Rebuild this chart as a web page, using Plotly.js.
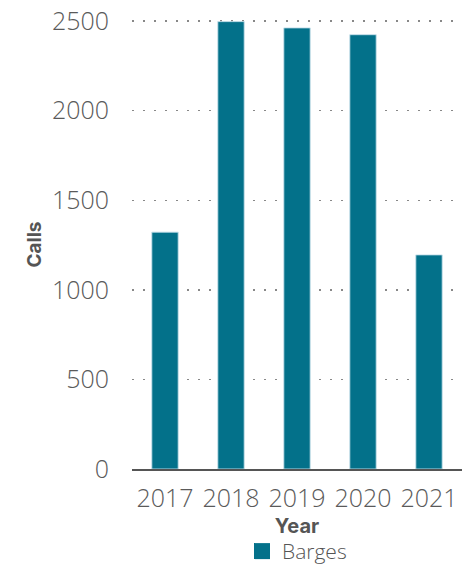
<!DOCTYPE html>
<html><head><meta charset="utf-8">
<script src="https://cdn.plot.ly/plotly-3.0.1.min.js"></script>
<style>html,body{margin:0;padding:0;background:#fff}#c{width:467px;height:565px}</style>
</head><body><div id="c"></div>
<script>
const years = ['2017','2018','2019','2020','2021'];
const barges = [1322, 2497, 2462, 2424, 1195];
const yTicks = [0, 500, 1000, 1500, 2000, 2500];
const seriesName = 'Barges';
const barColor = '#03718A';

const tickFam = '"Open Sans", sans-serif';
const fontFam = 'Inter, "Open Sans", sans-serif';
Plotly.newPlot('c', [{
  type: 'bar', x: years, y: barges, name: seriesName, legendgroup: 'b',
  marker: {color: barColor, line: {color: 'rgba(200,225,235,0.9)', width: 1}},
  showlegend: false
}, {
  type: 'scatter', mode: 'markers', x: [null], y: [null], name: seriesName, legendgroup: 'b',
  marker: {symbol: 'square', size: 16, color: barColor}, showlegend: true, hoverinfo: 'skip'
}], {
  width: 467, height: 565,
  margin: {l: 132, r: 5, t: 20, b: 96, autoexpand: false},
  paper_bgcolor: '#fff', plot_bgcolor: '#fff',
  bargap: 0.6,
  font: {family: fontFam, color: '#666'},
  xaxis: {type: 'category', showgrid: false, showline: true, linecolor: '#555', linewidth: 2,
    tickfont: {size: 25, color: '#5a5a5a', family: tickFam, weight: 300}, ticks: '', ticklabelstandoff: 6,
    title: {text: 'Year', font: {size: 20, color: '#555', weight: 'bold'}, standoff: 6}},
  yaxis: {range: [0, 2506], tickvals: yTicks, showgrid: true, gridcolor: '#888', griddash: '1.5px,9.5px', gridwidth: 1.5,
    zeroline: false, showline: false, ticks: '', ticklabelstandoff: 22,
    tickfont: {size: 25, color: '#5a5a5a', family: tickFam, weight: 300},
    title: {text: 'Calls', font: {size: 19, color: '#555', weight: 'bold'}, standoff: 5}},
  legend: {orientation: 'h', x: 0.5, xanchor: 'center', y: -0.138, yanchor: 'top',
    font: {size: 21, color: '#555', family: tickFam, weight: 300}, itemwidth: 20}
}, {displayModeBar: false, staticPlot: true});
</script></body></html>
